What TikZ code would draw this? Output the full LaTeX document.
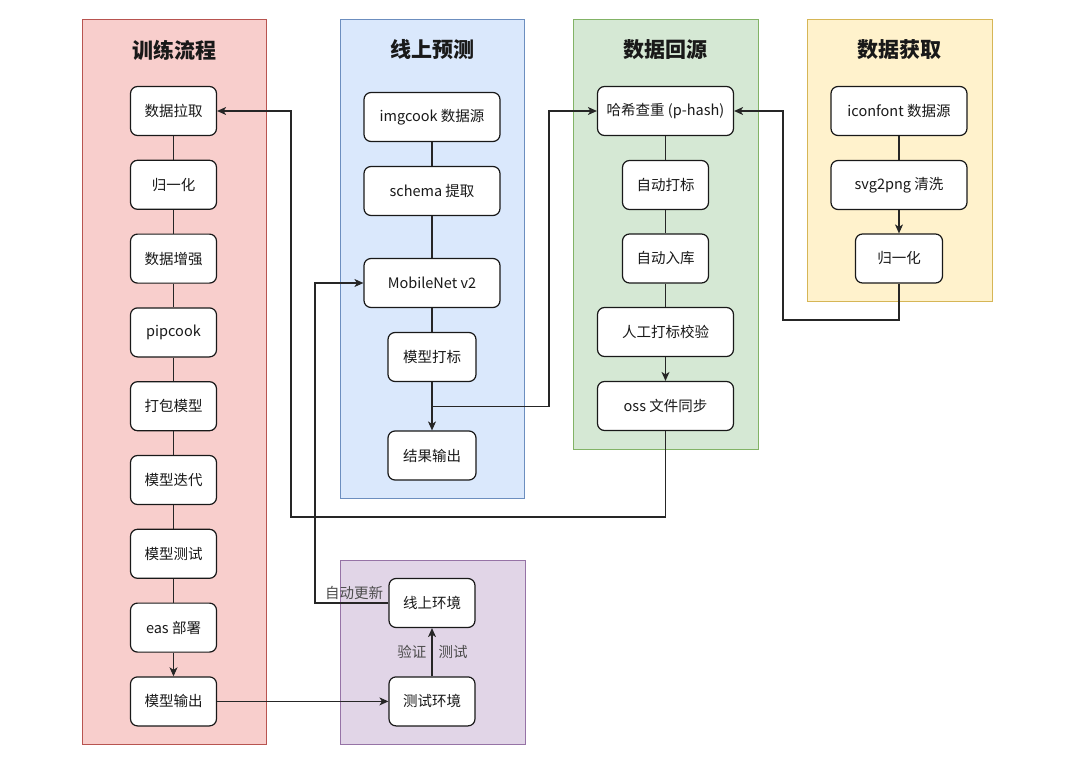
\documentclass[tikz,border=0pt]{standalone}
\usepackage{fontspec}
\setmainfont{Noto Sans CJK SC}
\usetikzlibrary{arrows.meta,calc,positioning}
\definecolor{redfill}{HTML}{F8CECC}\definecolor{redline}{HTML}{B85450}
\definecolor{bluefill}{HTML}{DAE8FC}\definecolor{blueline}{HTML}{6C8EBF}
\definecolor{greenfill}{HTML}{D5E8D4}\definecolor{greenline}{HTML}{82B366}
\definecolor{yellowfill}{HTML}{FFF2CC}\definecolor{yellowline}{HTML}{D6B656}
\definecolor{purplefill}{HTML}{E1D5E7}\definecolor{purpleline}{HTML}{9673A6}
\tikzstyle{line}=[-, line width=1.1pt, draw=black!85]
\tikzstyle{arr}=[line, -{Stealth[length=9pt,width=8pt,inset=2.5pt]}]
\tikzstyle{proc}=[rectangle, draw=black!90, fill=white, line width=1.2pt,
		rounded corners=7pt, minimum height=49pt, minimum width=86pt,
		inner sep=0pt, font=\fontsize{14.5}{16}\selectfont, text=black!90]
\tikzstyle{wide}=[proc, minimum width=136pt]
\tikzstyle{panel}=[line width=1pt]
\tikzstyle{title}=[font=\fontsize{21}{24}\selectfont\bfseries, text=black!90]
\tikzstyle{lbl}=[font=\fontsize{14.5}{16}\selectfont, text=black!70, inner sep=2pt]

\begin{document}
\begin{tikzpicture}[x=1pt, y=-1pt]

  \fill[white] (0,0) rectangle (1080,761);
  \useasboundingbox (0,0) rectangle (1080,761);

  % swimlanes
  \draw[panel, fill=redfill, draw=redline] (82,19) rectangle (266,744);
  \draw[panel, fill=bluefill, draw=blueline] (340,19) rectangle (524,498);
  \draw[panel, fill=greenfill, draw=greenline] (573,19) rectangle (758,449);
  \draw[panel, fill=yellowfill, draw=yellowline] (807,19) rectangle (992,301);
  \draw[panel, fill=purplefill, draw=purpleline] (340,560) rectangle (525,744);

  \node (TTrain) [title] at (174,50) {训练流程};
  \node (TPred) [title] at (432,50) {线上预测};
  \node (TBack) [title] at (665.5,50) {数据回源};
  \node (TGet) [title] at (899,50) {数据获取};

  % training flow
  \node (Pull) [proc] at (173.5,111) {数据拉取};
  \node (Norm) [proc] at (173.5,184.8) {归一化};
  \node (Aug) [proc] at (173.5,258.6) {数据增强};
  \node (Pip) [proc] at (173.5,332.4) {pipcook};
  \node (Pack) [proc] at (173.5,406.2) {打包模型};
  \node (Iter) [proc] at (173.5,480) {模型迭代};
  \node (MTest) [proc] at (173.5,553.8) {模型测试};
  \node (Eas) [proc] at (173.5,627.6) {eas 部署};
  \node (MOut) [proc] at (173.5,701.4) {模型输出};

  \draw[line] (Pull) -- (Norm);
  \draw[line] (Norm) -- (Aug);
  \draw[line] (Aug) -- (Pip);
  \draw[line] (Pip) -- (Pack);
  \draw[line] (Pack) -- (Iter);
  \draw[line] (Iter) -- (MTest);
  \draw[line] (MTest) -- (Eas);
  \draw[arr] (Eas) -- (MOut);

  % online prediction
  \node (Img) [wide] at (432,117) {imgcook 数据源};
  \node (Sch) [wide] at (432,191) {schema 提取};
  \node (Mob) [wide] at (432,283) {MobileNet v2};
  \node (Mark) [proc, minimum width=88pt] at (432,357) {模型打标};
  \node (Res) [proc, minimum width=88pt] at (432,455.5) {结果输出};

  \draw[line] (Img) -- (Sch);
  \draw[line] (Sch) -- (Mob);
  \draw[line] (Mob) -- (Mark);
  \draw[arr] (Mark) -- (Res);

  % data back-flow
  \node (Hash) [wide] at (665.5,111) {哈希查重 (p-hash)};
  \node (ALab) [proc] at (665.5,185) {自动打标};
  \node (AStore) [proc] at (665.5,258.5) {自动入库};
  \node (Check) [wide] at (665.5,332) {人工打标校验};
  \node (Oss) [wide] at (665.5,406) {oss 文件同步};

  \draw[line] (Hash) -- (ALab);
  \draw[line] (ALab) -- (AStore);
  \draw[line] (AStore) -- (Check);
  \draw[arr] (Check) -- (Oss);

  % data source
  \node (Icon) [wide] at (899,111) {iconfont 数据源};
  \node (Svg) [wide] at (899,185) {svg2png 清洗};
  \node (YNorm) [proc, minimum width=87pt] at (899,258.5) {归一化};

  \draw[line] (Icon) -- (Svg);
  \draw[arr] (Svg) -- (YNorm);

  % environments
  \node (Online) [proc] at (432,603) {线上环境};
  \node (TestEnv) [proc] at (432,701.4) {测试环境};

  \draw[arr] (TestEnv) -- (Online)
    node[lbl, midway, left, xshift=-3pt] {验证}
    node[lbl, midway, right, xshift=4pt] {测试};
  \draw[arr] (MOut) -- (TestEnv);

  % long connectors
  \coordinate (SplitM) at ($(Mark.south)!0.5!(Res.north)$);
  \draw[arr] (SplitM) -| (549,111) -- (Hash.west);
  \draw[arr] (YNorm.south) |- (783,320) |- (Hash.east);
  \draw[arr] (Oss.south) |- (291,517) |- (Pull.east);
  \draw[arr] (Online.west) -| (315,283) -- (Mob.west);
  \node (LUpd) [lbl, anchor=south east] at ($(Online.west)+(-3,-1)$) {自动更新};

\end{tikzpicture}
\end{document}
